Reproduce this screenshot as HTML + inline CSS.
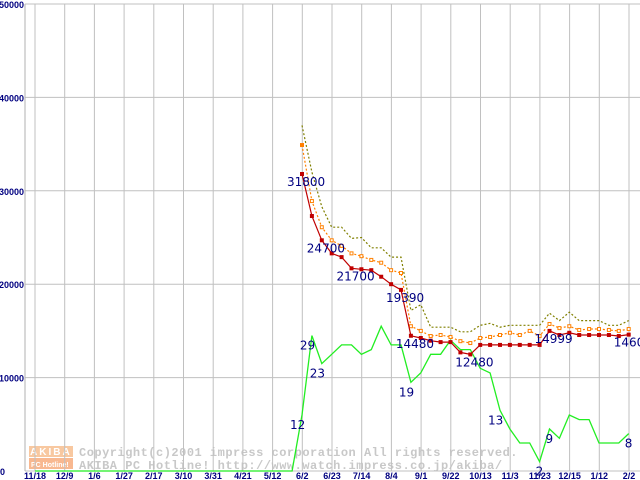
<!DOCTYPE html>
<html><head><meta charset="utf-8"><style>
html,body{margin:0;padding:0;background:#fff;}
svg{display:block;}
.tk{font-family:"Liberation Sans",sans-serif;font-size:9px;font-weight:bold;fill:#000080;}
.lb{font-family:"DejaVu Sans","Liberation Sans",sans-serif;font-size:12px;fill:#000080;}
.wm{font-family:"Liberation Mono",monospace;font-size:12px;font-weight:bold;fill:#c8c8c8;letter-spacing:0.5px;}
</style></head><body>
<svg id="chart" width="640" height="480" viewBox="0 0 640 480" xmlns="http://www.w3.org/2000/svg">
<g>
<rect x="29" y="446" width="44" height="11" fill="#f8c8a0"/>
<text x="30" y="455" font-family="Liberation Sans,sans-serif" font-size="10" font-weight="bold" fill="#fff" letter-spacing="2">AKIBA</text>
<rect x="29" y="458" width="44" height="11" fill="#f8b890"/>
<text x="31" y="467" font-family="Liberation Sans,sans-serif" font-size="7" font-weight="bold" fill="#fff">PC Hotline!</text>
<text class="wm" x="79" y="456">Copyright(c)2001 impress corporation All rights reserved.</text>
<text class="wm" x="79" y="469">AKIBA PC Hotline!  http://www.watch.impress.co.jp/akiba/</text>
</g>
<g id="grid"></g>
<g id="axes"></g>
<g id="series"></g>
<g id="labels"></g>
</svg>
<script>
const xLabels=["11/18","12/9","1/6","1/27","2/17","3/10","3/31","4/21","5/12","6/2","6/23","7/14","8/4","9/1","9/22","10/13","11/3","11/23","12/15","1/12","2/2"];
const yTicks=[0,10000,20000,30000,40000,50000];
const minPrice=[31800,27300,24700,23300,22900,21700,21600,21500,20800,20000,19390,14480,14240,13950,13800,13800,12700,12480,13500,13500,13500,13500,13500,13500,13500,14999,14560,14800,14560,14560,14560,14560,14450,14600];
const avgPrice=[34900,28900,26100,24700,24100,23300,23000,22600,22300,21500,21200,15500,15000,14450,14560,14350,13900,13700,14240,14350,14560,14800,14560,15000,14450,15740,15300,15500,15100,15200,15200,15100,15000,15200];
const maxPrice=[37000,32000,28300,26100,26100,24900,25000,23900,23900,22900,22900,17200,17800,15400,15400,15400,14900,14900,15600,15800,15400,15600,15600,15600,15600,16900,16100,17000,16100,16100,16100,15600,15600,16100];
const shopCount=[12,29,23,25,27,27,25,26,31,27,27,19,21,25,25,28,26,26,22,21,13,9,6,6,2,9,7,12,11,11,6,6,6,8];
const priceLabels=[[0,"31800"],[2,"24700"],[5,"21700"],[10,"19390"],[11,"14480"],[17,"12480"],[25,"14999"],[33,"14600"]];
const countLabels=[[0,"12"],[1,"29"],[2,"23"],[11,"19"],[20,"13"],[25,"9"],[24,"2"],[33,"8"]];
const NS="http://www.w3.org/2000/svg";
const X0=35,XSTEP=29.7,Y0=471,YTOP=4,YMAX=50000,WEEK0=302,WSTEP=9.9;
function yS(v){return Y0-(v/YMAX)*(Y0-YTOP);}
function xW(i){return WEEK0+i*WSTEP;}
function yC(c){return yS(c*500);}
function mk(tag,attrs,parent){const e=document.createElementNS(NS,tag);for(const k in attrs)e.setAttribute(k,attrs[k]);parent.appendChild(e);return e;}
const grid=document.getElementById('grid'),axes=document.getElementById('axes'),ser=document.getElementById('series'),lab=document.getElementById('labels');
xLabels.forEach((t,i)=>{const x=X0+i*XSTEP;
 const l=mk('line',{x1:x,y1:YTOP,x2:x,y2:Y0,stroke:'#c0c0c0','stroke-width':1},grid);
 
 
 const tx=mk('text',{x:x,y:479,'text-anchor':'middle',class:'tk'},axes);tx.textContent=t;
 
 
});
yTicks.forEach(v=>{const y=yS(v);
 const l=mk('line',{x1:25,y1:y,x2:640,y2:y,stroke:'#c0c0c0','stroke-width':1},grid);
 
 
 const tx=mk('text',{x:v===0?0:-1,y:v===0?475:y+4,class:'tk'},axes);tx.textContent=String(v);
 
 
});
const ya=mk('line',{x1:25,y1:YTOP,x2:25,y2:Y0,stroke:'#b0b0b0'},axes);


function pts(arr,f){return arr.map((v,i)=>xW(i).toFixed(1)+','+f(v).toFixed(1)).join(' ');}
let gp=X0+','+Y0+' '+(xW(-1)).toFixed(1)+','+Y0+' '+pts(shopCount,yC);
const g=mk('polyline',{points:gp,fill:'none',stroke:'#22ee22','stroke-width':1.3},ser);


const mx=mk('polyline',{points:pts(maxPrice,yS),fill:'none',stroke:'#808000','stroke-width':1.2,'stroke-dasharray':'2,2'},ser);


const av=mk('polyline',{points:pts(avgPrice,yS),fill:'none',stroke:'#ff8000','stroke-width':1.2,'stroke-dasharray':'2,2'},ser);


avgPrice.forEach((v,i)=>{const r=mk('rect',{x:xW(i)-1.5,y:yS(v)-1.5,width:3,height:3,fill:i===0?'#ff8000':'#fff',stroke:'#ff8000','stroke-width':1},ser);
 
 });
const mn=mk('polyline',{points:pts(minPrice,yS),fill:'none',stroke:'#c00000','stroke-width':1.2},ser);


minPrice.forEach((v,i)=>{const r=mk('rect',{x:xW(i)-2,y:yS(v)-2,width:4,height:4,fill:'#c00000'},ser);
 
 });
priceLabels.forEach(([i,t])=>{const tx=mk('text',{x:xW(i)-15,y:yS(minPrice[i])+12,class:'lb'},lab);tx.textContent=t;
 
 });
countLabels.forEach(([i,t])=>{const tx=mk('text',{x:xW(i)-(t.length>1?12:4),y:yC(shopCount[i])+14,class:'lb'},lab);tx.textContent=t;
 
 });
</script>
</body></html>
